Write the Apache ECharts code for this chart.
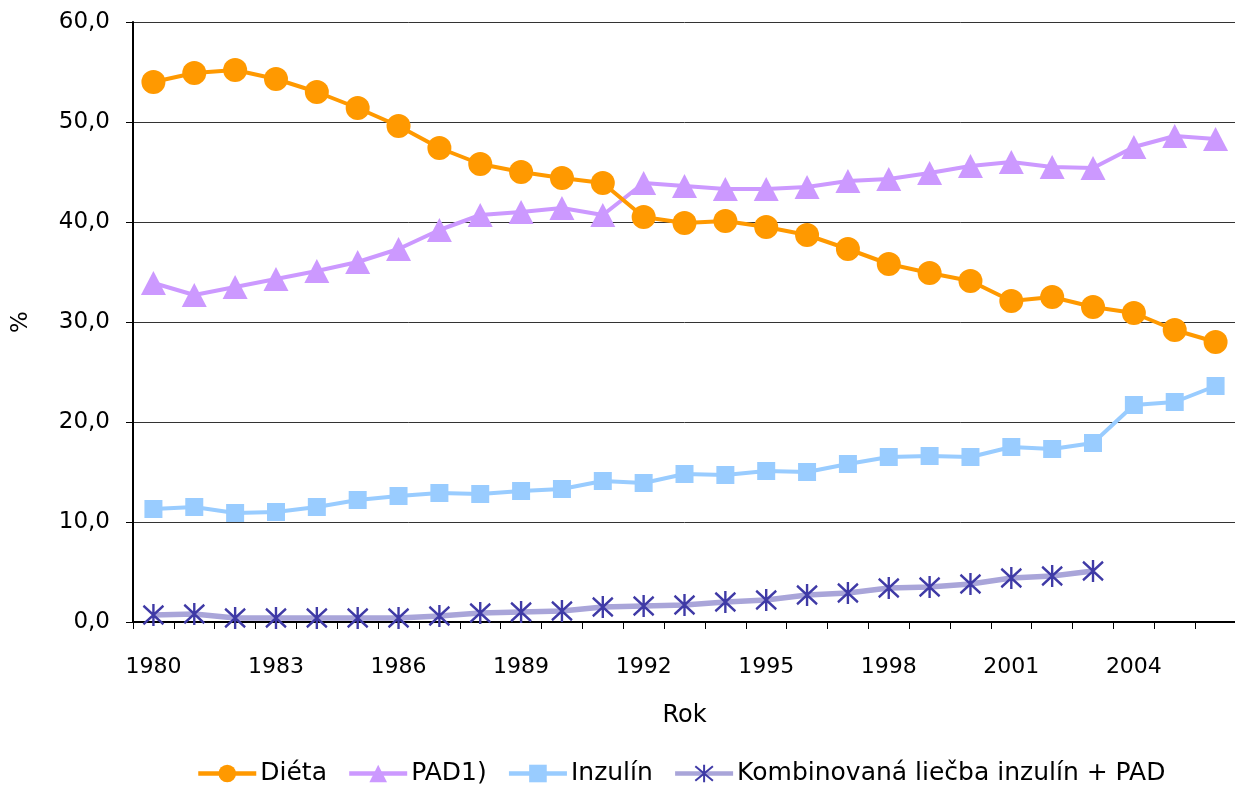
<!DOCTYPE html>
<html>
<head>
<meta charset="utf-8">
<script src="https://cdn.jsdelivr.net/npm/echarts@6/dist/echarts.min.js"></script>
<style>
html,body{margin:0;padding:0;background:#fff;}
#chart{width:1235px;height:787px;}
</style>
</head>
<body>
<div id="chart"></div>
<script>
const years = ['1980','1981','1982','1983','1984','1985','1986','1987','1988','1989','1990','1991','1992','1993','1994','1995','1996','1997','1998','1999','2000','2001','2002','2003','2004','2005','2006'];
const dieta = [54.0,54.9,55.2,54.3,53.0,51.4,49.6,47.4,45.8,45.0,44.4,43.9,40.5,39.9,40.1,39.5,38.7,37.3,35.8,34.9,34.1,32.1,32.5,31.5,30.9,29.2,28.0];
const pad = [33.9,32.7,33.5,34.3,35.1,36.0,37.3,39.2,40.7,41.0,41.4,40.7,43.9,43.6,43.3,43.3,43.5,44.1,44.3,44.9,45.6,46.0,45.5,45.4,47.5,48.6,48.3];
const inzulin = [11.3,11.5,10.9,11.0,11.5,12.2,12.6,12.9,12.8,13.1,13.3,14.1,13.9,14.8,14.7,15.1,15.0,15.8,16.5,16.6,16.5,17.5,17.3,17.9,21.7,22.0,23.6];
const kombinovana = [0.7,0.8,0.4,0.4,0.4,0.4,0.4,0.6,0.9,1.0,1.1,1.5,1.6,1.7,2.0,2.2,2.7,2.9,3.4,3.5,3.8,4.4,4.6,5.1,null,null,null];
const seriesNames = ['Diéta','PAD1)','Inzulín','Kombinovaná liečba inzulín + PAD'];
const yTicks = {min:0, max:60, interval:10};

const FONT = 'DejaVu Sans';
const chart = echarts.init(document.getElementById('chart'));
const star = 'path://M0,0 L20,20 M20,0 L0,20 M10,-2 L10,22';
chart.setOption({
  animation:false,
  textStyle:{fontFamily:FONT},
  grid:{left:133, right:-1, top:22, bottom:165, containLabel:false, outerBoundsMode:'none'},
  legend:{
    top:756, left:191, itemWidth:58, itemHeight:22, itemGap:20,
    lineStyle:{width:4.5},
    textStyle:{fontFamily:FONT, fontSize:25, color:'#000', padding:[0,0,0,-1]},
    data:seriesNames
  },
  xAxis:{
    type:'category', data:years, boundaryGap:true,
    name:'Rok', nameLocation:'middle', nameGap:82,
    nameTextStyle:{fontFamily:FONT, fontSize:24, color:'#000'},
    axisLine:{lineStyle:{color:'#000', width:2}},
    axisTick:{show:true, interval:0, length:7, lineStyle:{color:'#000', width:1}},
    axisLabel:{interval:2, margin:34, fontFamily:FONT, fontSize:22, color:'#000'},
    splitLine:{show:false}
  },
  yAxis:{
    type:'value', min:yTicks.min, max:yTicks.max, interval:yTicks.interval,
    name:'%', nameLocation:'middle', nameGap:100, nameRotate:90,
    nameTextStyle:{fontFamily:FONT, fontSize:23, color:'#000'},
    axisLine:{show:true, lineStyle:{color:'#000', width:2}},
    axisTick:{show:true, length:7, lineStyle:{color:'#000'}},
    axisLabel:{margin:23, fontFamily:FONT, fontSize:23, color:'#000',
      formatter:v=>v.toFixed(1).replace('.',',')},
    splitLine:{show:true, lineStyle:{color:'#333', width:1}}
  },
  series:[
    {name:seriesNames[0], type:'line', data:dieta, symbol:'circle', symbolSize:24,
     lineStyle:{color:'#FF9900', width:4}, itemStyle:{color:'#FF9900'}, z:4},
    {name:seriesNames[1], type:'line', data:pad, symbol:'triangle', symbolSize:[25,24],
     lineStyle:{color:'#CC99FF', width:4}, itemStyle:{color:'#CC99FF'}, z:3},
    {name:seriesNames[2], type:'line', data:inzulin, symbol:'rect', symbolSize:18,
     lineStyle:{color:'#99CCFF', width:4}, itemStyle:{color:'#99CCFF'}, z:3},
    {name:seriesNames[3], type:'line', data:kombinovana, symbol:star, symbolSize:[20,22],
     connectNulls:false,
     lineStyle:{color:'#A9A5D9', width:5.5},
     itemStyle:{color:'#A9A5D9', borderColor:'#3F3AA6', borderWidth:2.5}, z:3}
  ]
});
</script>
</body>
</html>
